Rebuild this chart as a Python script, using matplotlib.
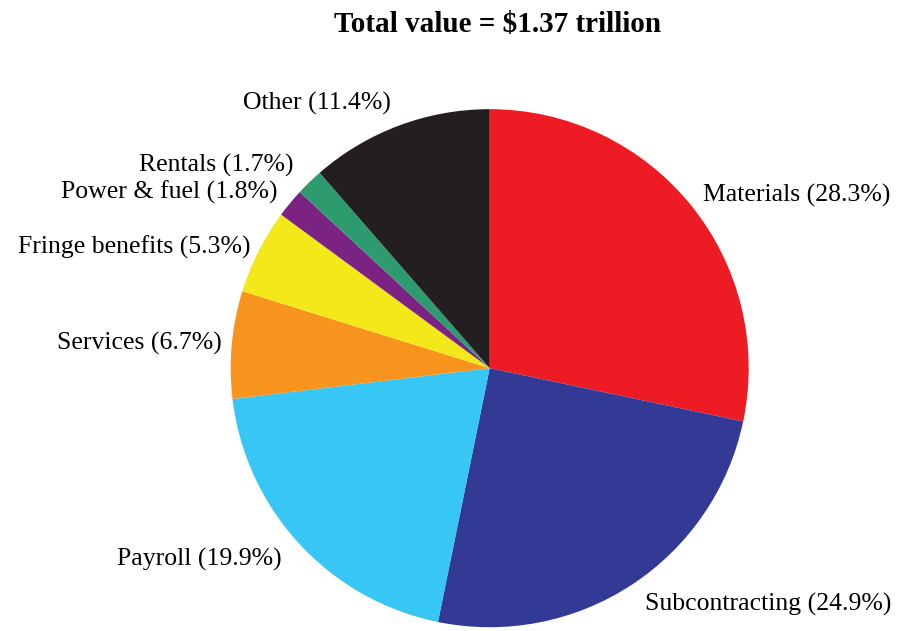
import numpy as np
import matplotlib.pyplot as plt

plt.rcParams['font.family'] = ['Liberation Serif', 'DejaVu Serif']

categories = ['Materials', 'Subcontracting', 'Payroll', 'Services',
              'Fringe benefits', 'Power & fuel', 'Rentals', 'Other']
shares = [28.3, 24.9, 19.9, 6.7, 5.3, 1.8, 1.7, 11.4]
colors = ['#ED1C24', '#333A96', '#38C6F4', '#F7941D',
          '#F2E81A', '#7B2382', '#2E9B6E', '#231F20']
title = 'Total value = $1.37 trillion'

labels = [f'{c} ({s}%)' for c, s in zip(categories, shares)]
# how far out each label sits, in pie radii
label_dist = [1.06, 1.09, 1.09, 1.04, 1.035, 1.065, 1.09, 1.09]

fig = plt.figure(figsize=(9.01, 6.31), dpi=100)
ax = fig.add_axes([0.256, 0.006, 0.575, 0.821])
wedges, texts = ax.pie(shares, labels=labels, colors=colors, startangle=90,
                       counterclock=False, labeldistance=1.1,
                       textprops={'fontsize': 18.5})

# put each label on its own distance along the wedge middle
for w, t, d in zip(wedges, texts, label_dist):
    ang = np.deg2rad((w.theta1 + w.theta2) / 2)
    t.set_position((d * np.cos(ang), d * np.sin(ang)))

ax.set_xlim(-1, 1)
ax.set_ylim(-1, 1)
ax.set_aspect('equal')
fig.suptitle(title, x=0.552, fontsize=21, fontweight='bold', y=0.982)

fig.savefig('out.png', dpi=100)
